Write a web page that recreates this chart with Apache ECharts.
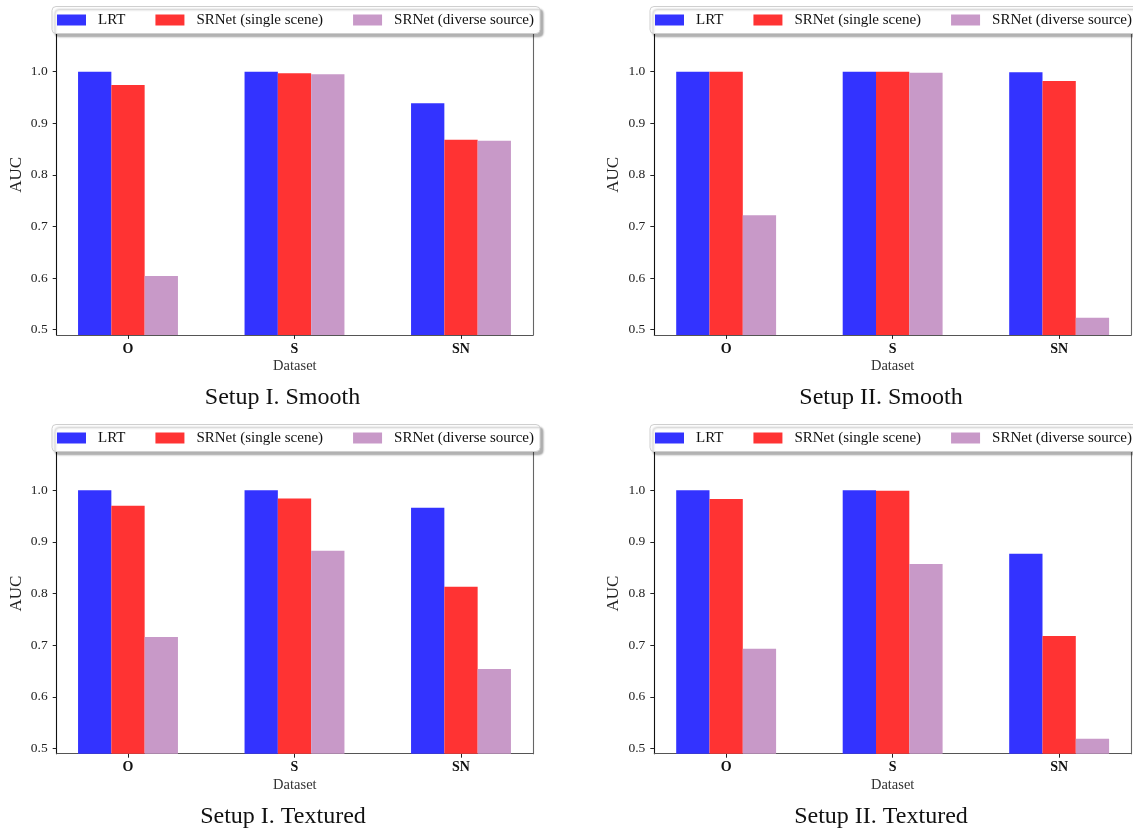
<!DOCTYPE html>
<html>
<head>
<meta charset="utf-8">
<script src="https://cdn.jsdelivr.net/npm/echarts@6/dist/echarts.min.js"></script>
<style>
html,body{margin:0;padding:0;background:#fff;}
#chart{width:1133px;height:832px;}
</style>
</head>
<body>
<div id="chart"></div>
<script>
// ---- data ----
const categories = ['O', 'S', 'SN'];
const seriesNames = ['LRT', 'SRNet (single scene)', 'SRNet (diverse source)'];
const yTicks = [0.5, 0.6, 0.7, 0.8, 0.9, 1.0];
const panelTitles = ['Setup I. Smooth', 'Setup II. Smooth', 'Setup I. Textured', 'Setup II. Textured'];

const setup1Smooth_LRT = [1.000, 1.000, 0.939];
const setup1Smooth_single = [0.974, 0.997, 0.868];
const setup1Smooth_diverse = [0.604, 0.995, 0.866];

const setup2Smooth_LRT = [1.000, 1.000, 0.999];
const setup2Smooth_single = [1.000, 1.000, 0.982];
const setup2Smooth_diverse = [0.722, 0.998, 0.523];

const setup1Textured_LRT = [1.000, 1.000, 0.966];
const setup1Textured_single = [0.970, 0.984, 0.813];
const setup1Textured_diverse = [0.716, 0.883, 0.654];

const setup2Textured_LRT = [1.000, 1.000, 0.877];
const setup2Textured_single = [0.983, 0.999, 0.718];
const setup2Textured_diverse = [0.693, 0.857, 0.519];

const panelData = [
  [setup1Smooth_LRT, setup1Smooth_single, setup1Smooth_diverse],
  [setup2Smooth_LRT, setup2Smooth_single, setup2Smooth_diverse],
  [setup1Textured_LRT, setup1Textured_single, setup1Textured_diverse],
  [setup2Textured_LRT, setup2Textured_single, setup2Textured_diverse]
];

// ---- style / layout ----
const colors = ['#3333ff', '#ff3333', '#c899c8'];
const SERIF = '"Liberation Serif", "DejaVu Serif", serif';
const Y_MIN = 0.49, Y_MAX = 1.11;
const layouts = [
  {frameLeft: 56.7, frameWidth: 476.3, barLeft: 44.75, barWidth: 499.5, top: 14.9, height: 320, legLeft: 52, legTop: 6.5, titleX: 282.5, titleY: 398, dsY: 366, aucX: 16.7},
  {frameLeft: 654.3, frameWidth: 476.7, barLeft: 642.9, barWidth: 499.5, top: 14.9, height: 320, legLeft: 650, legTop: 6.5, titleX: 881, titleY: 398, dsY: 366, aucX: 614},
  {frameLeft: 56.7, frameWidth: 476.3, barLeft: 44.75, barWidth: 499.5, top: 433.4, height: 320.3, legLeft: 52, legTop: 424.5, titleX: 283, titleY: 817, dsY: 785, aucX: 16.7},
  {frameLeft: 654.3, frameWidth: 476.7, barLeft: 642.9, barWidth: 499.5, top: 433.4, height: 320.3, legLeft: 650, legTop: 424.5, titleX: 881, titleY: 817, dsY: 785, aucX: 614}
];

const grid = [], xAxis = [], yAxis = [], series = [], legend = [], graphic = [];

layouts.forEach((L, p) => {
  // frame grid (spines + y ticks)
  grid.push({left: L.frameLeft, top: L.top, width: L.frameWidth, height: L.height, containLabel: false, outerBoundsMode: 'none'});
  // bar grid
  grid.push({left: L.barLeft, top: L.top, width: L.barWidth, height: L.height, containLabel: false, outerBoundsMode: 'none'});

  xAxis.push({
    type: 'value', gridIndex: 2 * p, min: 0, max: 1,
    axisLine: {show: true, onZero: false, lineStyle: {color: '#555', width: 1.1}},
    axisTick: {show: false}, axisLabel: {show: false}, splitLine: {show: false}
  });
  xAxis.push({
    type: 'category', gridIndex: 2 * p + 1, data: categories, boundaryGap: true,
    axisLine: {show: false},
    axisTick: {show: true, alignWithLabel: true, length: 4, lineStyle: {color: '#222', width: 1}},
    axisLabel: {fontFamily: SERIF, fontSize: 14, fontWeight: 'bold', color: '#111', margin: 7},
    splitLine: {show: false}
  });

  yAxis.push({
    type: 'value', gridIndex: 2 * p, position: 'left', min: Y_MIN, max: Y_MAX,
    axisLine: {show: true, onZero: false, lineStyle: {color: '#111', width: 1.1}},
    axisTick: {show: true, length: 4, customValues: yTicks, lineStyle: {color: '#222', width: 1}},
    axisLabel: {show: true, customValues: yTicks, formatter: v => Number(v).toFixed(1),
      fontFamily: SERIF, fontSize: 13.5, color: '#222', margin: 9},
    splitLine: {show: false}
  });
  yAxis.push({
    type: 'value', gridIndex: 2 * p, position: 'right', min: Y_MIN, max: Y_MAX,
    axisLine: {show: true, onZero: false, lineStyle: {color: '#666', width: 1.1}},
    axisTick: {show: false}, axisLabel: {show: false}, splitLine: {show: false}
  });
  yAxis.push({
    type: 'value', gridIndex: 2 * p + 1, min: Y_MIN, max: Y_MAX, show: false,
    splitLine: {show: false}
  });

  panelData[p].forEach((vals, s) => {
    series.push({
      type: 'bar', name: seriesNames[s], xAxisIndex: 2 * p + 1, yAxisIndex: 3 * p + 2,
      data: vals, barWidth: '20%', barGap: '0%',
      itemStyle: {color: colors[s]}, clip: true, silent: true
    });
  });

  legend.push({
    show: true, left: L.legLeft, top: L.legTop, width: 480, orient: 'horizontal',
    padding: [6, 6, 6, 5], itemWidth: 29, itemHeight: 11, itemGap: 30, icon: 'rect',
    data: seriesNames, selectedMode: false,
    textStyle: {fontFamily: SERIF, fontSize: 15, color: '#111', padding: [0, 0, 0, 7]},
    backgroundColor: '#fff', borderColor: '#cfcfcf', borderWidth: 1, borderRadius: 4,
    shadowColor: 'rgba(0,0,0,0.3)', shadowBlur: 2, shadowOffsetX: 3, shadowOffsetY: 3
  });

  graphic.push({
    type: 'text', x: L.frameLeft + L.frameWidth / 2, y: L.dsY,
    style: {text: 'Dataset', textAlign: 'center', textVerticalAlign: 'middle',
      font: '14.5px ' + SERIF, fill: '#333'}
  });
  graphic.push({
    type: 'text', x: L.aucX, y: L.top + L.height / 2, rotation: Math.PI / 2,
    style: {text: 'AUC', textAlign: 'center', textVerticalAlign: 'middle',
      font: '17px ' + SERIF, fill: '#222'}
  });
  graphic.push({
    type: 'text', x: L.titleX, y: L.titleY,
    style: {text: panelTitles[p], textAlign: 'center', textVerticalAlign: 'middle',
      font: '24px ' + SERIF, fill: '#111'}
  });
});

const chart = echarts.init(document.getElementById('chart'), null, {renderer: 'canvas'});
chart.setOption({
  backgroundColor: '#fff',
  animation: false,
  grid, xAxis, yAxis, series, legend, graphic
});
</script>
</body>
</html>
